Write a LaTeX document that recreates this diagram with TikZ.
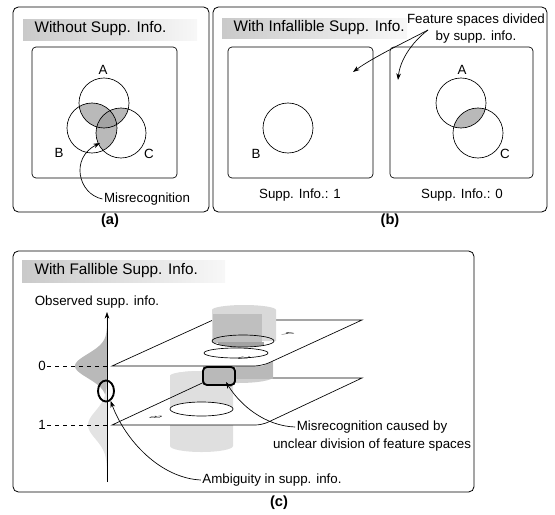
\documentclass[tikz,border=0pt]{standalone}
\usepackage{fontspec}
\setmainfont{Liberation Sans}
\usetikzlibrary{arrows.meta}
\usetikzlibrary{positioning}
\usetikzlibrary{shapes.geometric}

\begin{document}
\begin{tikzpicture}[x=0.75pt, y=-0.75pt,
	>={Stealth[length=5pt, width=3.5pt]},
	every node/.style={font=\fontsize{10}{12}\selectfont, inner sep=1pt},
	panel/.style={draw, rounded corners=4pt, line width=0.6pt},
	space/.style={draw, rounded corners=3pt, line width=0.5pt},
	banner/.style={left color=gray!42, right color=gray!6},
	title/.style={font=\fontsize{11.5}{13}\selectfont, anchor=west},
	sub/.style={font=\bfseries\fontsize{11}{13}\selectfont},
	cls/.style={circle, draw, line width=0.5pt, minimum size=37.5pt, inner sep=0pt},
	pointer/.style={->, line width=0.5pt}]
	\useasboundingbox (0,0) rectangle (555,514);

	% (a)
	\draw[panel] (13,7) rectangle (209,212);
	\shade[banner] (23,19) rectangle (197,40);
	\node[title] (ta) at (33,29) {Without Supp. Info.};
	\draw[space] (32,47) rectangle (177,178);
	\coordinate (ca) at (104,103);
	\coordinate (cb) at (92,128);
	\coordinate (cc) at (121,133);
	\begin{scope}
		\clip (ca) circle[radius=25];
		\fill[gray!55] (cb) circle[radius=25];
		\fill[gray!55] (cc) circle[radius=25];
	\end{scope}
	\begin{scope}
		\clip (cb) circle[radius=25];
		\fill[gray!55] (cc) circle[radius=25];
	\end{scope}
	\begin{scope}
		\clip (ca) circle[radius=25];
		\clip (cb) circle[radius=25];
		\fill[gray!72] (cc) circle[radius=25];
	\end{scope}
	\begin{scope}[every node/.style={cls}]
		\node (A1) at (ca) {};
		\node (B1) at (cb) {};
		\node (C1) at (cc) {};
	\end{scope}
	\node (la1) at (103,70) {A};
	\node (lb1) at (59,153) {B};
	\node (lc1) at (149,154) {C};
	\node (mis) at (147,199) {Misrecognition};
	\coordinate (misend) at (100,143);
	\draw[pointer] (mis.west) .. controls (78,194) and (70,158) .. (misend);
	\node[sub] (suba) at (110,221) {(a)};

	% (b)
	\draw[panel] (213,7) rectangle (547,212);
	\shade[banner] (222,18) rectangle (407,38);
	\node[title] (tb) at (232,28) {With Infallible Supp. Info.};
	\draw[space] (228,47) rectangle (373,178);
	\draw[space] (390,47) rectangle (533,178);
	\coordinate (ca2) at (461,103);
	\coordinate (cb2) at (288,128);
	\coordinate (cc2) at (478,133);
	\begin{scope}
		\clip (ca2) circle[radius=25];
		\fill[gray!55] (cc2) circle[radius=25];
	\end{scope}
	\begin{scope}[every node/.style={cls}]
		\node (B2) at (cb2) {};
		\node (A2) at (ca2) {};
		\node (C2) at (cc2) {};
	\end{scope}
	\node (lb2) at (256,154) {B};
	\node (la2) at (462,70) {A};
	\node (lc2) at (505,154) {C};
	\node (s1) at (300,195) {Supp. Info.: 1};
	\node (s0) at (462,195) {Supp. Info.: 0};
	\node[align=center, font=\fontsize{10}{12.75}\selectfont] (fs) at (476,29) {Feature spaces divided\\by supp. info.};
	\coordinate (fsa) at (428,30);
	\coordinate (fe1) at (353,72);
	\coordinate (fe2) at (398,80);
	\draw[pointer] (fsa) .. controls (405,42) and (372,58) .. (fe1);
	\draw[pointer] (fsa) .. controls (412,42) and (400,60) .. (fe2);
	\node[sub] (subb) at (390,221) {(b)};

	% (c)
	\draw[panel] (13,251) rectangle (474,492);
	\shade[banner] (22,260) rectangle (225,282);
	\node[title] (tc) at (33,271) {With Fallible Supp. Info.};

	\fill[gray!55] plot[domain=318:414, samples=80] ({107-32*exp(-((\x-366)/12)^2/2)}, \x) -- cycle;
	\fill[gray!22] plot[domain=372:480, samples=80] ({107-19*exp(-((\x-425)/14)^2/2)}, \x) -- cycle;
	\coordinate (axb) at (107,482);
	\coordinate (axt) at (107,312);
	\draw[->] (axb) -- (axt);
	\node (obs) at (97,302) {Observed supp. info.};
	\node (v0) at (42,366) {0};
	\node (v1) at (42,425) {1};
	\coordinate (y0) at (107,366);
	\coordinate (y1) at (107,425);
	\draw[dashed, line width=0.4pt] (v0.east) -- (y0);
	\draw[dashed, line width=0.4pt] (v1.east) -- (y1);

	% lower plane, supp. info. 1
	\coordinate (l1) at (112,425);
	\coordinate (l2) at (262,425);
	\coordinate (l3) at (362,378);
	\coordinate (l4) at (213,378);
	\fill[gray!25] (170,446) -- (170,376) arc[start angle=180, end angle=360, x radius=31.5, y radius=5]
		-- (233,446) arc[start angle=0, end angle=180, x radius=31.5, y radius=6] -- cycle;
	\fill[white] (l1) -- (l2) -- (l3) -- (l4) -- cycle;
	\fill[gray!25] (170,409) -- (170,376) arc[start angle=180, end angle=360, x radius=31.5, y radius=5]
		-- (233,409) -- cycle;
	\draw[fill=white, line width=0.5pt] (201.5,409) ellipse[x radius=31.5, y radius=7];
	\draw[line width=0.5pt] (l1) [rounded corners=5pt] -- (l2) [sharp corners] -- (l3) -- (l4) -- cycle;

	% upper plane, supp. info. 0
	\coordinate (u1) at (112,366);
	\coordinate (u2) at (262,366);
	\coordinate (u3) at (362,320);
	\coordinate (u4) at (213,320);
	\fill[gray!38] (203,345) -- (203,377) arc[start angle=180, end angle=0, x radius=35, y radius=6]
		-- (273,345) -- cycle;
	\fill[gray!55] (236,350) rectangle (273,379);
	\fill[white] (u1) -- (u2) -- (u3) -- (u4) -- cycle;
	\draw[line width=0.5pt] (u1) [rounded corners=6pt] -- (u2) [sharp corners] -- (u3) -- (u4) -- cycle;
	\fill[gray!30] (212,341) -- (212,310) arc[start angle=180, end angle=360, x radius=32, y radius=5]
		-- (276,341) -- cycle;
	\fill[gray!50] (213,314) rectangle (262,343);
	\begin{scope}
		\clip (243,341) ellipse[x radius=31, y radius=6];
		\fill[gray!72] (218,342) rectangle (264,350);
	\end{scope}
	\draw[line width=0.5pt] (243,341) ellipse[x radius=31, y radius=6];
	\draw[line width=0.5pt] (236,353) ellipse[x radius=32, y radius=5];

	% letters lying on the planes
	\begin{scope}[every node/.style={font=\fontsize{11}{11}\selectfont, inner sep=0pt, transform shape}]
		\begin{scope}[shift={(289,334)}, cm={-0.55,-0.25,1,0,(0,0)}]
			\node (pa) at (0,0) {A};
		\end{scope}
		\begin{scope}[shift={(244,358)}, cm={0.55,0.25,-1,0,(0,0)}]
			\node (pc) at (0,0) {C};
		\end{scope}
		\begin{scope}[shift={(156,417)}, cm={0.55,0.25,-1,0,(0,0)}]
			\node (pb) at (0,0) {B};
		\end{scope}
	\end{scope}

	\node[draw, line width=1.4pt, rounded corners=3pt, fill=gray!55, minimum width=24pt,
		minimum height=13.5pt] (mix) at (219,376) {};
	\node[ellipse, draw, line width=1.4pt, minimum width=12pt, minimum height=15.75pt,
		inner sep=0pt] (amb) at (106,391) {};

	\node (ambt) at (272,480) {Ambiguity in supp. info.};
	\draw[pointer] (ambt.west) .. controls (160,478) and (125,440) .. (amb.-65);
	\node (mc1) at (372,427) {Misrecognition caused by};
	\node[below=2pt of mc1] (mc2) {unclear division of feature spaces};
	\coordinate (mixend) at (226,382);
	\draw[pointer] (mc1.west) .. controls (265,426) and (240,405) .. (mixend);
	\node[sub] (subc) at (279,503) {(c)};
\end{tikzpicture}
\end{document}
